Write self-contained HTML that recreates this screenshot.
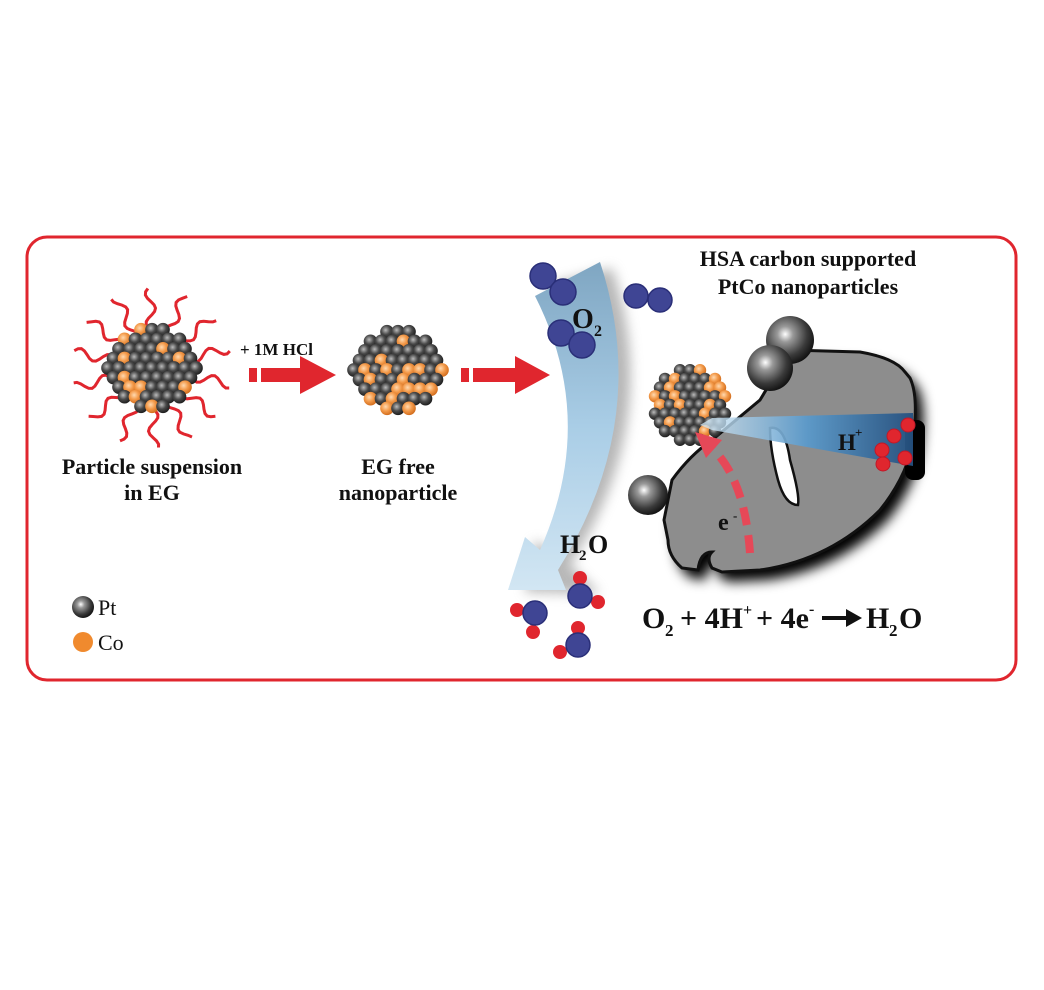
<!DOCTYPE html>
<html><head><meta charset="utf-8"><style>
html,body{margin:0;padding:0;background:#fff}
svg{display:block}
text{font-family:"Liberation Serif",serif;font-weight:bold;fill:#111}
</style></head><body>
<svg id="s" width="1044" height="990" viewBox="0 0 1044 990" xmlns="http://www.w3.org/2000/svg">
<defs>
<radialGradient id="pt" cx="0.4" cy="0.38" r="0.65"><stop offset="0" stop-color="#fff"/><stop offset="0.25" stop-color="#999"/><stop offset="0.7" stop-color="#3a3a3a"/><stop offset="1" stop-color="#111"/></radialGradient>
<radialGradient id="ps" cx="0.4" cy="0.38" r="0.65"><stop offset="0" stop-color="#bbb"/><stop offset="0.5" stop-color="#4a4a4a"/><stop offset="1" stop-color="#1a1a1a"/></radialGradient>
<radialGradient id="co" cx="0.4" cy="0.38" r="0.65"><stop offset="0" stop-color="#ffd9b0"/><stop offset="0.5" stop-color="#f39a4a"/><stop offset="1" stop-color="#d06a1a"/></radialGradient>
<linearGradient id="band" x1="0" y1="0" x2="0" y2="1"><stop offset="0" stop-color="#7fa6c2"/><stop offset="0.5" stop-color="#a9cde6"/><stop offset="1" stop-color="#d2e6f3"/></linearGradient>
<linearGradient id="hp" x1="0" y1="0" x2="1" y2="0"><stop offset="0" stop-color="#d8ecf8" stop-opacity="0.8"/><stop offset="0.5" stop-color="#5b9acb"/><stop offset="1" stop-color="#24507f"/></linearGradient>
<filter id="blur" x="-20%" y="-20%" width="140%" height="140%"><feGaussianBlur stdDeviation="6"/></filter>
</defs>
<rect x="27" y="237" width="989" height="443" rx="20" fill="#fff" stroke="#e0262e" stroke-width="3"/>

<g id="strands" stroke="#e0262e" stroke-width="3" fill="none"></g>
<g id="c1"></g><g id="c2"></g>

<text x="152" y="474" font-size="22" text-anchor="middle">Particle suspension</text>
<text x="152" y="500" font-size="22" text-anchor="middle">in EG</text>
<text x="398" y="474" font-size="22" text-anchor="middle">EG free</text>
<text x="398" y="500" font-size="22" text-anchor="middle">nanoparticle</text>
<text x="240" y="355" font-size="17">+ 1M HCl</text>

<g fill="#e0262e">
<rect x="249" y="368" width="8" height="14"/><polygon points="261,368 300,368 300,356 336,375 300,394 300,382 261,382"/>
<rect x="461" y="368" width="8" height="14"/><polygon points="473,368 515,368 515,356 550,375 515,394 515,382 473,382"/>
</g>

<!-- curved band -->
<path d="M612,268 Q664,420 570,565 L600,594 L525,592 L535,540 L552,552 Q610,420 548,285 Z" fill="#888" opacity="0.6" filter="url(#blur)"/>
<path d="M600,262 Q652,420 558,570 L566,590 L508,590 L525,537 L540,550 Q598,420 535,296 Z" fill="url(#band)"/>

<g fill="#3f4594" stroke="#2a2f78" stroke-width="1.5">
<circle cx="543" cy="276" r="13"/><circle cx="563" cy="292" r="13"/>
<circle cx="636" cy="296" r="12"/><circle cx="660" cy="300" r="12"/>
<circle cx="561" cy="333" r="13"/><circle cx="582" cy="345" r="13"/>
</g>
<text x="572" y="328" font-size="28">O</text><text x="594" y="336" font-size="16">2</text>
<text x="560" y="553" font-size="26">H</text><text x="579" y="560" font-size="15">2</text><text x="588" y="553" font-size="26">O</text>

<g fill="#e0262e"><circle cx="580" cy="578" r="7"/><circle cx="598" cy="602" r="7"/><circle cx="517" cy="610" r="7"/><circle cx="533" cy="632" r="7"/><circle cx="578" cy="628" r="7"/><circle cx="560" cy="652" r="7"/></g>
<g fill="#3f4594" stroke="#2a2f78" stroke-width="1.5"><circle cx="580" cy="596" r="12"/><circle cx="535" cy="613" r="12"/><circle cx="578" cy="645" r="12"/></g>

<!-- carbon -->
<path id="cb" d="M790,350 L860,352 Q895,358 905,372 L910,378 Q918,395 914,430 Q912,470 880,510 Q830,560 760,570 L722,572 L712,568 Q706,558 712,552 Q700,552 698,570 L682,568 Q668,556 668,540 L664,520 Q668,500 672,480 Q690,455 712,440 L760,400 Z"/>
<use href="#cb" fill="#000" transform="translate(8,10)" filter="url(#blur)"/>
<use href="#cb" fill="#8d8d8d" stroke="#111" stroke-width="3"/>
<rect x="905" y="420" width="20" height="60" rx="8" fill="#000"/>
<path d="M770,428 Q785,425 790,460 Q800,495 798,505 Q785,505 778,480 Q770,450 770,428 Z" fill="#fff" stroke="#111" stroke-width="2.5"/>

<circle cx="790" cy="340" r="24" fill="url(#pt)"/>
<circle cx="770" cy="368" r="23" fill="url(#pt)"/>
<circle cx="648" cy="495" r="20" fill="url(#pt)"/>

<g id="c3"></g>

<polygon points="913,413 913,466 712,430 700,425 712,418" fill="url(#hp)" opacity="0.95"/>
<text x="838" y="450" font-size="23">H</text><text x="855" y="437" font-size="13">+</text>
<g fill="#e0262e" stroke="#c01828"><circle cx="908" cy="425" r="7"/><circle cx="894" cy="436" r="7"/><circle cx="882" cy="450" r="7"/><circle cx="905" cy="458" r="7"/><circle cx="883" cy="464" r="7"/></g>

<path d="M750,553 Q745,480 712,448" fill="none" stroke="#e64858" stroke-width="8" stroke-dasharray="18,10"/>
<polygon points="695,432 722,440 706,458" fill="#e64858"/>
<text x="718" y="530" font-size="24">e</text><text x="733" y="520" font-size="13">-</text>

<text x="808" y="266" font-size="22" text-anchor="middle">HSA carbon supported</text>
<text x="808" y="294" font-size="22" text-anchor="middle">PtCo nanoparticles</text>

<text x="642" y="628" font-size="30">O</text><text x="665" y="636" font-size="17">2</text>
<text x="680" y="628" font-size="30">+ 4H</text><text x="743" y="615" font-size="16">+</text>
<text x="756" y="628" font-size="30">+ 4e</text><text x="809" y="614" font-size="16">-</text>
<line x1="822" y1="618" x2="848" y2="618" stroke="#111" stroke-width="4"/><polygon points="846,609 862,618 846,627" fill="#111"/>
<text x="866" y="628" font-size="30">H</text><text x="889" y="636" font-size="17">2</text><text x="899" y="628" font-size="30">O</text>

<circle cx="83" cy="607" r="11" fill="url(#pt)"/>
<circle cx="83" cy="642" r="10" fill="#f08a2e"/>
<text x="98" y="615" font-size="22" style="font-weight:normal">Pt</text>
<text x="98" y="650" font-size="22" style="font-weight:normal">Co</text>
</svg>
<script>
var NS="http://www.w3.org/2000/svg",seed=7;
function rnd(){seed=(seed*16807)%2147483647;return seed/2147483647;}
function cluster(id,cx,cy,R,s){
 var g=document.getElementById(id),arr=[];
 for(var j=-10;j<=10;j++)for(var i=-10;i<=10;i++){
  var x=cx+(i+(j%2?0.5:0))*s,y=cy+j*s*0.87;
  if((x-cx)*(x-cx)+(y-cy)*(y-cy)<=R*R)arr.push([x,y]);}
 arr.forEach(function(p){var c=document.createElementNS(NS,"circle");
  c.setAttribute("cx",p[0]);c.setAttribute("cy",p[1]);c.setAttribute("r",s*0.62);
  c.setAttribute("fill",rnd()<0.28?"url(#co)":"url(#ps)");g.appendChild(c);});
}
cluster("c1",152,368,44,11);
cluster("c2",398,370,44,11);
cluster("c3",690,405,38,10);
var st=document.getElementById("strands");
for(var k=0;k<14;k++){var a=k/14*2*Math.PI+0.2,d="";
 for(var t=0;t<=12;t++){var r=40+t*3.3,w=Math.sin(t*0.7+k)*5;
  var x=152+r*Math.cos(a)-w*Math.sin(a),y=368+r*Math.sin(a)+w*Math.cos(a);
  d+=(t?"L":"M")+x.toFixed(1)+","+y.toFixed(1);}
 var p=document.createElementNS(NS,"path");p.setAttribute("d",d);st.appendChild(p);}
</script>
</body></html>
